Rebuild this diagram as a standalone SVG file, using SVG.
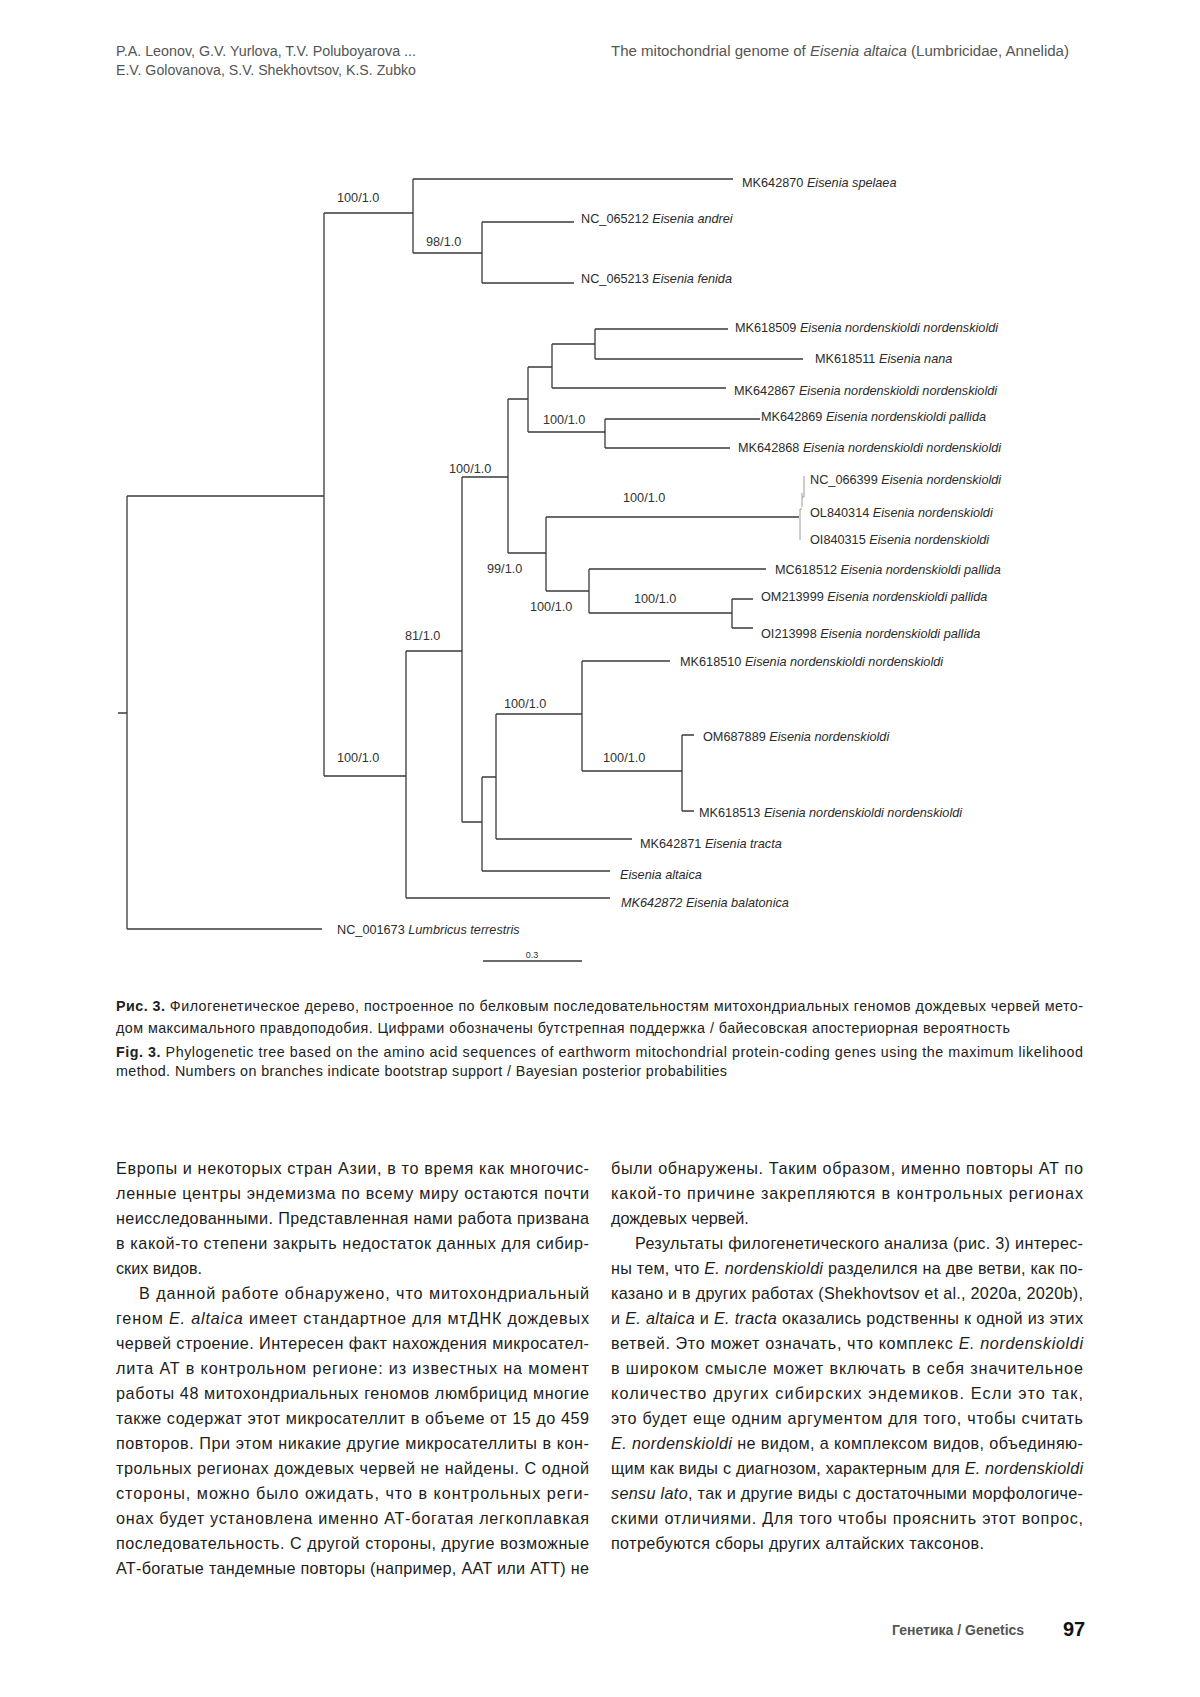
<svg xmlns="http://www.w3.org/2000/svg" width="1200" height="1697" viewBox="0 0 1200 1697">
<style>
text{font-family:"Liberation Sans",Arial,sans-serif}
.t{font-size:12.7px;fill:#2b2b2b}
.s{font-size:12.7px;fill:#333}
.i{font-style:italic}
.b{font-weight:bold}
.br{fill:none;stroke:#3a3a3a;stroke-width:1.3}
.gr{fill:none;stroke:#9a9a9a;stroke-width:1}
.hd{font-size:14px;fill:#555}
.cap{font-size:14.3px;fill:#222}
.bd{font-size:16.2px;fill:#1c1c1c}
.ft{font-size:14px;fill:#555;font-weight:bold}
</style>
<rect width="1200" height="1697" fill="#fff"/>
<g id="header">
<text class="hd" x="116" y="56" textLength="300" lengthAdjust="spacingAndGlyphs">P.A. Leonov, G.V. Yurlova, T.V. Poluboyarova ...</text>
<text class="hd" x="116" y="75" textLength="300" lengthAdjust="spacingAndGlyphs">E.V. Golovanova, S.V. Shekhovtsov, K.S. Zubko</text>
<text class="hd" x="611" y="56" textLength="458" lengthAdjust="spacingAndGlyphs">The mitochondrial genome of <tspan class="i">Eisenia altaica</tspan> (Lumbricidae, Annelida)</text>
</g>
<g id="connectors">
<path class="br" d="M118,713H127 M127,496V929 M127,496H324 M127,929H322
M324,213V776 M324,213H413 M324,776H406
M413,179V253 M413,179H733 M413,253H482
M482,222V283 M482,222H574 M482,283H574
M406,651V898 M406,651H462 M406,898H610
M462,477V822 M462,477H508 M462,822H482
M508,399V553 M508,399H528 M508,553H546
M528,367V432 M528,367H552 M528,432H605
M552,344V388 M552,344H595 M552,388H726
M595,329V359 M595,329H728 M595,359H803
M605,419V448 M605,419H760 M605,448H730
M546,517V591 M546,517H799 M546,591H589
M589,569V613 M589,569H766 M589,613H732
M732,599V628 M732,599H753 M732,628H753
M482,777V871 M482,777H496 M482,871H610
M496,714V839 M496,714H582 M496,839H632
M582,661V771 M582,661H670 M582,771H682
M682,735V811 M682,735H694 M682,811H694"/>
<path class="gr" d="M804,476V497 M802,493V507 M800,509V540 M802,497H804 M800,509H802"/>
<path class="br" d="M483,961H582"/>
</g>
<g id="support">
<text class="s" x="337" y="201.5">100/1.0</text>
<text class="s" x="426" y="245.5">98/1.0</text>
<text class="s" x="543" y="423.5">100/1.0</text>
<text class="s" x="449" y="472.5">100/1.0</text>
<text class="s" x="623" y="501.5">100/1.0</text>
<text class="s" x="487" y="572.5">99/1.0</text>
<text class="s" x="530" y="610.5">100/1.0</text>
<text class="s" x="634" y="602.5">100/1.0</text>
<text class="s" x="405" y="639.5">81/1.0</text>
<text class="s" x="504" y="707.5">100/1.0</text>
<text class="s" x="337" y="761.5">100/1.0</text>
<text class="s" x="603" y="761.5">100/1.0</text>
</g>
<g id="tips">
<g id="tip-MK642870"><text class="t" x="742" y="186.5">MK642870 <tspan class="i">Eisenia spelaea</tspan></text></g>
<g id="tip-NC065212"><text class="t" x="581" y="223">NC_065212 <tspan class="i">Eisenia andrei</tspan></text></g>
<g id="tip-NC065213"><text class="t" x="581" y="283">NC_065213 <tspan class="i">Eisenia fenida</tspan></text></g>
<g id="tip-MK618509"><text class="t" x="735" y="332">MK618509 <tspan class="i">Eisenia nordenskioldi nordenskioldi</tspan></text></g>
<g id="tip-MK618511"><text class="t" x="815" y="363">MK618511 <tspan class="i">Eisenia nana</tspan></text></g>
<g id="tip-MK642867"><text class="t" x="734" y="395">MK642867 <tspan class="i">Eisenia nordenskioldi nordenskioldi</tspan></text></g>
<g id="tip-MK642869"><text class="t" x="761" y="421">MK642869 <tspan class="i">Eisenia nordenskioldi pallida</tspan></text></g>
<g id="tip-MK642868"><text class="t" x="738" y="452">MK642868 <tspan class="i">Eisenia nordenskioldi nordenskioldi</tspan></text></g>
<g id="tip-NC066399"><text class="t" x="810" y="484">NC_066399 <tspan class="i">Eisenia nordenskioldi</tspan></text></g>
<g id="tip-OL840314"><text class="t" x="810" y="517">OL840314 <tspan class="i">Eisenia nordenskioldi</tspan></text></g>
<g id="tip-OI840315"><text class="t" x="810" y="544">OI840315 <tspan class="i">Eisenia nordenskioldi</tspan></text></g>
<g id="tip-MC618512"><text class="t" x="775" y="574">MC618512 <tspan class="i">Eisenia nordenskioldi pallida</tspan></text></g>
<g id="tip-OM213999"><text class="t" x="761" y="601">OM213999 <tspan class="i">Eisenia nordenskioldi pallida</tspan></text></g>
<g id="tip-OI213998"><text class="t" x="761" y="638">OI213998 <tspan class="i">Eisenia nordenskioldi pallida</tspan></text></g>
<g id="tip-MK618510"><text class="t" x="680" y="666">MK618510 <tspan class="i">Eisenia nordenskioldi nordenskioldi</tspan></text></g>
<g id="tip-OM687889"><text class="t" x="703" y="741">OM687889 <tspan class="i">Eisenia nordenskioldi</tspan></text></g>
<g id="tip-MK618513"><text class="t" x="699" y="817">MK618513 <tspan class="i">Eisenia nordenskioldi nordenskioldi</tspan></text></g>
<g id="tip-MK642871"><text class="t" x="640" y="848">MK642871 <tspan class="i">Eisenia tracta</tspan></text></g>
<g id="tip-altaica"><text class="t i" x="620" y="879">Eisenia altaica</text></g>
<g id="tip-MK642872"><text class="t i" x="621" y="907">MK642872 Eisenia balatonica</text></g>
<g id="tip-NC001673"><text class="t" x="337" y="934">NC_001673 <tspan class="i">Lumbricus terrestris</tspan></text></g>
<g id="scale"><text x="532" y="958" font-size="9" fill="#333" text-anchor="middle">0.3</text></g>
</g>
<g id="caption">
<text class="cap" x="116" y="1011" textLength="967" lengthAdjust="spacing"><tspan class="b">Рис. 3.</tspan> Филогенетическое дерево, построенное по белковым последовательностям митохондриальных геномов дождевых червей мето-</text>
<text class="cap" x="116" y="1033" textLength="894" lengthAdjust="spacing">дом максимального правдоподобия. Цифрами обозначены бутстрепная поддержка / байесовская апостериорная вероятность</text>
<text class="cap" x="116" y="1057" textLength="967" lengthAdjust="spacing"><tspan class="b">Fig. 3.</tspan> Phylogenetic tree based on the amino acid sequences of earthworm mitochondrial protein-coding genes using the maximum likelihood</text>
<text class="cap" x="116" y="1076" textLength="611" lengthAdjust="spacing">method. Numbers on branches indicate bootstrap support / Bayesian posterior probabilities</text>
</g>
<g id="body-left">
<text class="bd" x="116" y="1174" textLength="473" lengthAdjust="spacing">Европы и некоторых стран Азии, в то время как многочис-</text>
<text class="bd" x="116" y="1199" textLength="473" lengthAdjust="spacing">ленные центры эндемизма по всему миру остаются почти</text>
<text class="bd" x="116" y="1224" textLength="473" lengthAdjust="spacing">неисследованными. Представленная нами работа призвана</text>
<text class="bd" x="116" y="1249" textLength="473" lengthAdjust="spacing">в какой-то степени закрыть недостаток данных для сибир-</text>
<text class="bd" x="116" y="1274">ских видов.</text>
<text class="bd" x="139" y="1299" textLength="450" lengthAdjust="spacing">В данной работе обнаружено, что митохондриальный</text>
<text class="bd" x="116" y="1324" textLength="473" lengthAdjust="spacing">геном <tspan class="i">E. altaica</tspan> имеет стандартное для мтДНК дождевых</text>
<text class="bd" x="116" y="1349" textLength="473" lengthAdjust="spacing">червей строение. Интересен факт нахождения микросател-</text>
<text class="bd" x="116" y="1374" textLength="473" lengthAdjust="spacing">лита АТ в контрольном регионе: из известных на момент</text>
<text class="bd" x="116" y="1399" textLength="473" lengthAdjust="spacing">работы 48 митохондриальных геномов люмбрицид многие</text>
<text class="bd" x="116" y="1424" textLength="473" lengthAdjust="spacing">также содержат этот микросателлит в объеме от 15 до 459</text>
<text class="bd" x="116" y="1449" textLength="473" lengthAdjust="spacing">повторов. При этом никакие другие микросателлиты в кон-</text>
<text class="bd" x="116" y="1474" textLength="473" lengthAdjust="spacing">трольных регионах дождевых червей не найдены. С одной</text>
<text class="bd" x="116" y="1499" textLength="473" lengthAdjust="spacing">стороны, можно было ожидать, что в контрольных реги-</text>
<text class="bd" x="116" y="1524" textLength="473" lengthAdjust="spacing">онах будет установлена именно АТ-богатая легкоплавкая</text>
<text class="bd" x="116" y="1549" textLength="473" lengthAdjust="spacing">последовательность. С другой стороны, другие возможные</text>
<text class="bd" x="116" y="1574" textLength="473" lengthAdjust="spacing">АТ-богатые тандемные повторы (например, AAT или ATT) не</text>
</g>
<g id="body-right">
<text class="bd" x="611" y="1174" textLength="472" lengthAdjust="spacing">были обнаружены. Таким образом, именно повторы АТ по</text>
<text class="bd" x="611" y="1199" textLength="472" lengthAdjust="spacing">какой-то причине закрепляются в контрольных регионах</text>
<text class="bd" x="611" y="1224">дождевых червей.</text>
<text class="bd" x="635" y="1249" textLength="448" lengthAdjust="spacing">Результаты филогенетического анализа (рис. 3) интерес-</text>
<text class="bd" x="611" y="1274" textLength="472" lengthAdjust="spacing">ны тем, что <tspan class="i">E. nordenskioldi</tspan> разделился на две ветви, как по-</text>
<text class="bd" x="611" y="1299" textLength="472" lengthAdjust="spacing">казано и в других работах (Shekhovtsov et al., 2020a, 2020b),</text>
<text class="bd" x="611" y="1324" textLength="472" lengthAdjust="spacing">и <tspan class="i">E. altaica</tspan> и <tspan class="i">E. tracta</tspan> оказались родственны к одной из этих</text>
<text class="bd" x="611" y="1349" textLength="472" lengthAdjust="spacing">ветвей. Это может означать, что комплекс <tspan class="i">E. nordenskioldi</tspan></text>
<text class="bd" x="611" y="1374" textLength="472" lengthAdjust="spacing">в широком смысле может включать в себя значительное</text>
<text class="bd" x="611" y="1399" textLength="472" lengthAdjust="spacing">количество других сибирских эндемиков. Если это так,</text>
<text class="bd" x="611" y="1424" textLength="472" lengthAdjust="spacing">это будет еще одним аргументом для того, чтобы считать</text>
<text class="bd" x="611" y="1449" textLength="472" lengthAdjust="spacing"><tspan class="i">E. nordenskioldi</tspan> не видом, а комплексом видов, объединяю-</text>
<text class="bd" x="611" y="1474" textLength="472" lengthAdjust="spacing">щим как виды с диагнозом, характерным для <tspan class="i">E. nordenskioldi</tspan></text>
<text class="bd" x="611" y="1499" textLength="472" lengthAdjust="spacing"><tspan class="i">sensu lato</tspan>, так и другие виды с достаточными морфологиче-</text>
<text class="bd" x="611" y="1524" textLength="472" lengthAdjust="spacing">скими отличиями. Для того чтобы прояснить этот вопрос,</text>
<text class="bd" x="611" y="1549" textLength="373" lengthAdjust="spacing">потребуются сборы других алтайских таксонов.</text>
</g>
<g id="footer">
<text class="ft" x="892" y="1635">Генетика / Genetics</text>
<text x="1063" y="1636" font-size="20" font-weight="bold" fill="#111">97</text>
</g>
</svg>
